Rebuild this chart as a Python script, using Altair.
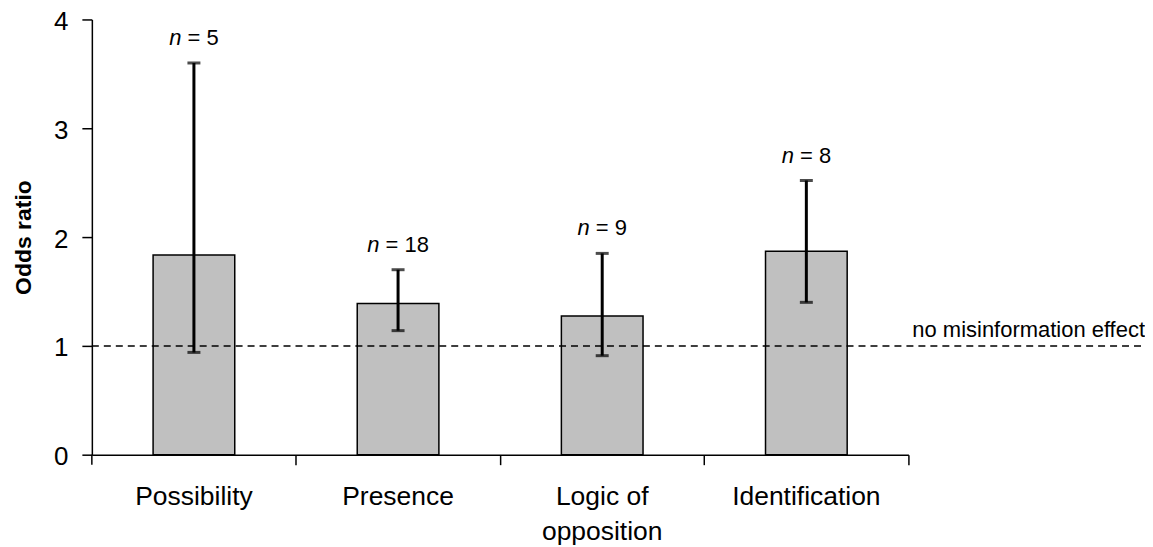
import altair as alt
import pandas as pd

categories = ["Possibility", "Presence", "Logic of opposition", "Identification"]
odds = [1.835, 1.39, 1.275, 1.87]
lower = [0.94, 1.14, 0.91, 1.40]
upper = [3.60, 1.70, 1.85, 2.52]
n_studies = [5, 18, 9, 8]
ref_value = [1]
ref_label = ["no misinformation effect"]
y_ticks = [0, 1, 2, 3, 4]

df = pd.DataFrame({"cat": categories, "odds": odds, "lo": lower, "hi": upper, "n": n_studies})
ref = pd.DataFrame({"v": ref_value, "label": ref_label})

FONT = "Liberation Sans"
PLOT_W = 818
FULL_W = 1055
PLOT_H = 436

x = alt.X("cat:N", sort=categories, title=None,
          scale=alt.Scale(range=[0, PLOT_W], paddingInner=0.6, paddingOuter=0.3),
          axis=alt.Axis(labelFont=FONT, labelFontSize=26.5, labelColor="black", labelAngle=0,
                        labelPadding=19, labelLineHeight=34.5, tickSize=10, tickColor="black",
                        tickWidth=1.5, domainColor="black", domainWidth=1.5,
                        bandPosition=1.75,
                        labelExpr="datum.label == 'Logic of opposition' ? ['Logic of', 'opposition'] : datum.label"))
yscale = alt.Scale(domain=[0, 4], nice=False)
y = alt.Y("odds:Q", scale=yscale, title="Odds ratio",
          axis=alt.Axis(values=y_ticks, format="d", grid=False, labelFont=FONT, labelFontSize=26,
                        labelColor="black", labelPadding=14, labelOffset=2, tickSize=10,
                        tickColor="black", tickWidth=1.5,
                        domainColor="black", domainWidth=1.5, titleFont=FONT, titleFontSize=23,
                        titleFontWeight="bold", titleColor="black", titlePadding=18))

base = alt.Chart(df)
bars = base.mark_bar(fill="#c0c0c0", stroke="black", strokeWidth=1.5).encode(x=x, y=y)
err = base.mark_rule(color="black", strokeWidth=3).encode(
    x=alt.X("cat:N", sort=categories), y=alt.Y("lo:Q", scale=yscale), y2="hi:Q")
cap_hi = base.mark_tick(color="black", thickness=3, size=13, orient="horizontal").encode(
    x=alt.X("cat:N", sort=categories), y=alt.Y("hi:Q", scale=yscale))
cap_lo = base.mark_tick(color="black", thickness=3, size=13, orient="horizontal").encode(
    x=alt.X("cat:N", sort=categories), y=alt.Y("lo:Q", scale=yscale))


def nlabels(filt, n_end, rest_start):
    b = base.transform_filter(filt).transform_calculate(rest="'= ' + datum.n")
    it = b.mark_text(font=FONT, fontSize=22, fontStyle="italic", align="right", baseline="alphabetic",
                     dx=n_end, dy=-18, color="black").encode(
        x=alt.X("cat:N", sort=categories), y=alt.Y("hi:Q", scale=yscale), text=alt.value("n"))
    rs = b.mark_text(font=FONT, fontSize=22, align="left", baseline="alphabetic",
                     dx=rest_start, dy=-18, color="black").encode(
        x=alt.X("cat:N", sort=categories), y=alt.Y("hi:Q", scale=yscale), text="rest:N")
    return it + rs


lab1 = nlabels("datum.n < 10", -12.5, -6.4)
lab2 = nlabels("datum.n >= 10", -18.6, -12.5)

refc = alt.Chart(ref)
rule = refc.mark_rule(color="black", strokeWidth=1.5, strokeDash=[7, 5]).encode(
    y=alt.Y("v:Q", scale=yscale), x=alt.value(0), x2=alt.value(FULL_W))
reftext = refc.mark_text(font=FONT, fontSize=22, align="right", baseline="alphabetic", dy=-9,
                         color="black").encode(
    y=alt.Y("v:Q", scale=yscale), x=alt.value(FULL_W), text="label:N")
# first category-boundary tick at the axis origin
origin_tick = refc.mark_rule(color="black", strokeWidth=1.5).encode(
    x=alt.value(0), y=alt.value(PLOT_H), y2=alt.value(PLOT_H + 10))

chart = alt.layer(bars, rule, err, cap_hi, cap_lo, lab1, lab2, reftext, origin_tick).properties(
    width=FULL_W, height=PLOT_H,
    autosize=alt.AutoSizeParams(type="none"),
    padding={"left": 84, "top": 11, "right": 0, "bottom": 92},
).configure_view(stroke=None).configure_axis(grid=False)

chart.save("out.html", embed_options={"renderer": "svg", "actions": False})
